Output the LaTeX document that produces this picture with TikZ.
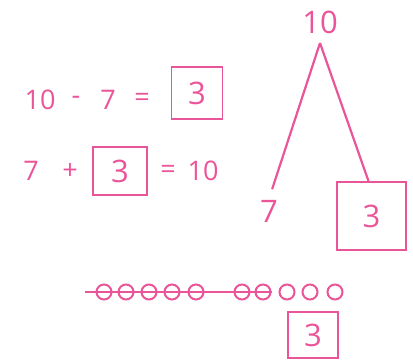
\documentclass[tikz,border=0pt]{standalone}
\usepackage{fontspec}
\setmainfont{Open Sans}
\definecolor{bondpink}{RGB}{234,84,152}
\tikzset{
  num/.style={text=bondpink, font=\fontsize{27}{30}\selectfont, inner sep=1pt},
  bignum/.style={text=bondpink, font=\fontsize{31}{34}\selectfont, inner sep=1pt},
  numbox/.style={draw=bondpink, line width=1.8pt, text=bondpink,
    font=\fontsize{31}{34}\selectfont, inner sep=0pt},
  pinkline/.style={draw=bondpink, line width=2.2pt},
  bead/.style={circle, draw=bondpink, line width=2pt, minimum size=15pt, inner sep=0pt}
}
\begin{document}
\begin{tikzpicture}[x=1pt,y=-1pt]
    \useasboundingbox (0,0) rectangle (413,360);

    % 10 - 7 = 3
    \node[num] (ten) at (40,100) {10};
    \node[num] (minus) at (76,100) {-};
    \node[num] (seven) at (108,100) {7};
    \node[num] (eq) at (142,100) {=};
    \node[numbox, minimum width=51pt, minimum height=52pt] (ans) at (197,93) {3};

    % 7 + 3 = 10
    \node[num] (sevenb) at (31,171) {7};
    \node[num] (plus) at (70,171) {+};
    \node[numbox, minimum width=54pt, minimum height=48pt] (part) at (120,171) {3};
    \node[num] (eqb) at (168,172) {=};
    \node[num] (tenb) at (203,171) {10};

    % number bond
    \node[bignum] (whole) at (320,22) {10};
    \coordinate (apex) at (320,43);
    \node[bignum] (left) at (269,211) {7};
    \node[numbox, minimum width=69pt, minimum height=68pt] (right) at (371.5,216) {3};
    \draw[pinkline, shorten >=10pt] (apex) -- (left.north);
    \draw[pinkline] (apex) -- ([xshift=-3pt]right.north);

    % beads
    \coordinate (start) at (85,292);
    \foreach \x [count=\i] in {104,126,149,172,196,242,263,287,310,335}
        \node[bead] (b\i) at (\x,292) {};
    \draw[pinkline] (start) -- (b7.east);
    \node[numbox, minimum width=50pt, minimum height=46pt] (left3) at (313,335) {3};
\end{tikzpicture}
\end{document}
